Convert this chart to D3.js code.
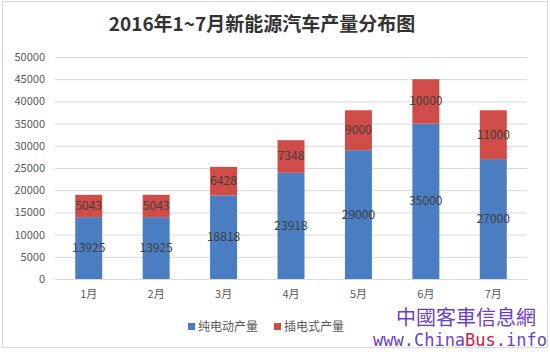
<!doctype html>
<html>
<head>
    <meta charset="utf-8">
    <script src="https://d3js.org/d3.v7.min.js"></script>
    <style>
        body { margin: 0; background: #fff; }
        text { font-family: "Noto Sans CJK SC", "Open Sans", sans-serif; }
    </style>
</head>
<body>
    <script>
        let months = ["1月", "2月", "3月", "4月", "5月", "6月", "7月"];
        let pureElectric = [13925, 13925, 18818, 23918, 29000, 35000, 27000];
        let plugIn = [5043, 5043, 6428, 7348, 9000, 10000, 11000];
        let seriesNames = ["纯电动产量", "插电式产量"];
        let yTicks = [0, 5000, 10000, 15000, 20000, 25000, 30000, 35000, 40000, 45000, 50000];
        let colors = ["#4a7dc2", "#cf4c48"];

        let rows = months.map(function(m, i){ return {month: m, pure: pureElectric[i], plug: plugIn[i]}; });
        let stacked = d3.stack().keys(["pure", "plug"])(rows);

        let width = 550, height = 352;
        let svg = d3.select("body").append("svg")
                    .attr("width", width).attr("height", height);

        svg.append("rect")
            .attr("x", 2.5).attr("y", 1.5).attr("width", 545).attr("height", 346)
            .attr("fill", "#fff").attr("stroke", "#d9d9d9");

        svg.append("text")
            .attr("x", 262).attr("y", 31)
            .attr("text-anchor", "middle")
            .style("font-size", "19px").style("font-weight", "bold").style("fill", "#333")
            .text("2016年1~7月新能源汽车产量分布图");

        let x = d3.scaleBand().domain(months).range([55, 527]).paddingInner(0.6).paddingOuter(0.3);
        let y = d3.scaleLinear().domain([0, 50000]).range([279, 57]);

        let yAxis = svg.append("g")
            .attr("transform", "translate(55,0)")
            .call(d3.axisLeft(y).tickValues(yTicks).tickFormat(d3.format("d")).tickSize(-472).tickPadding(10));
        yAxis.select(".domain").remove();
        yAxis.selectAll(".tick line").attr("stroke", "#d9d9d9");
        yAxis.selectAll(".tick text").style("font-size", "11px").style("fill", "#595959");

        let xAxis = svg.append("g")
            .attr("transform", "translate(0,279)")
            .call(d3.axisBottom(x).tickSize(0).tickPadding(11));
        xAxis.select(".domain").attr("stroke", "#d9d9d9");
        xAxis.selectAll(".tick text").style("font-size", "11px").style("fill", "#595959");

        let layers = svg.selectAll(".layer").data(stacked).enter().append("g")
            .attr("fill", function(d, i){ return colors[i]; });
        layers.selectAll("rect").data(function(d){ return d; }).enter().append("rect")
            .attr("x", function(d){ return x(d.data.month); })
            .attr("width", x.bandwidth())
            .attr("y", function(d){ return y(d[1]); })
            .attr("height", function(d){ return y(d[0]) - y(d[1]); });
        layers.selectAll("text").data(function(d){ return d; }).enter().append("text")
            .attr("x", function(d){ return x(d.data.month) + x.bandwidth() / 2; })
            .attr("y", function(d){ return (y(d[0]) + y(d[1])) / 2 + 4; })
            .attr("text-anchor", "middle")
            .style("font-size", "12px").style("fill", "#404040")
            .text(function(d){ return d[1] - d[0]; });

        let legendX = [188, 274];
        let legend = svg.selectAll(".legend").data(seriesNames).enter().append("g")
            .attr("transform", function(d, i){ return "translate(" + legendX[i] + ",327)"; });
        legend.append("rect")
            .attr("x", 0).attr("y", -4).attr("width", 7).attr("height", 7)
            .attr("fill", function(d, i){ return colors[i]; });
        legend.append("text")
            .attr("x", 10).attr("y", 4)
            .style("font-size", "12px").style("fill", "#595959")
            .text(function(d){ return d; });

        // watermark
        svg.append("text")
            .attr("x", 466).attr("y", 325).attr("text-anchor", "middle")
            .style("font-size", "20px").style("fill", "#6a3fc8")
            .text("中國客車信息網");
        let url = svg.append("text")
            .attr("x", 460).attr("y", 346).attr("text-anchor", "middle")
            .style("font-family", "DejaVu Sans Mono").style("font-size", "17px").style("fill", "#6a3fc8");
        url.append("tspan").text("www.China");
        url.append("tspan").style("fill", "#d02040").text("Bus");
        url.append("tspan").text(".info");
    </script>
</body>
</html>
